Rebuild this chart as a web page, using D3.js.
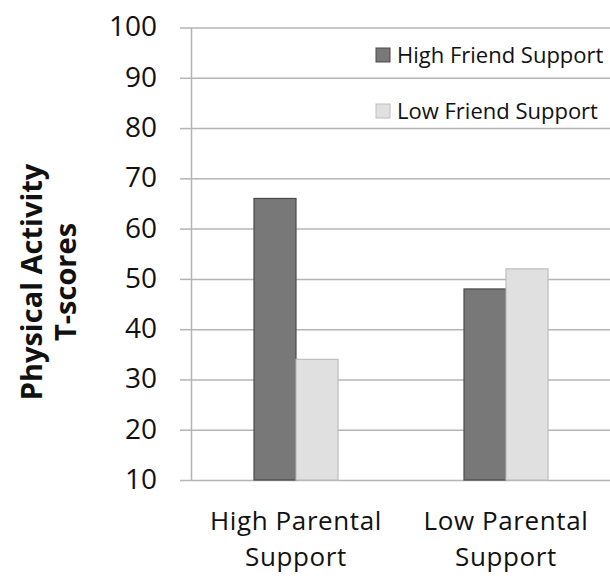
<!DOCTYPE html>
<html>
<head>
<meta charset="utf-8">
<script src="https://cdn.jsdelivr.net/npm/d3@7"></script>
<style>
  body { margin: 0; background: #fff; }
  text { font-family: "Open Sans", sans-serif; fill: #111; }
</style>
</head>
<body>
<div id="chart"></div>
<script>
// data
const categories = [["High Parental", "Support"], ["Low Parental", "Support"]];
const seriesNames = ["High Friend Support", "Low Friend Support"];
const highFriend = [66, 48];
const lowFriend = [34, 52];
const yTicks = [10, 20, 30, 40, 50, 60, 70, 80, 90, 100];

const W = 610, H = 578;
const colors = { "High Friend Support": "#787878", "Low Friend Support": "#e0e0e0" };
const strokes = { "High Friend Support": "#4a4a4a", "Low Friend Support": "#bdbdbd" };

const svg = d3.select("#chart").append("svg")
  .attr("width", W)
  .attr("height", H);

const plotL = 191, plotR = 611, plotT = 27.5, plotB = 480;

const catKeys = categories.map(c => c.join(" "));
const x = d3.scaleBand().domain(catKeys).range([plotL, plotR])
  .paddingInner(0.6).paddingOuter(0.3);
const xs = d3.scaleBand().domain(seriesNames).range([0, x.bandwidth()]);
const y = d3.scaleLinear().domain([10, 100]).range([plotB, plotT]);

// gridlines
svg.append("g")
  .attr("transform", `translate(${plotL},0)`)
  .call(d3.axisLeft(y).tickValues(yTicks).tickSize(-(W - plotL)).tickFormat(""))
  .call(g => g.select(".domain").remove())
  .call(g => g.selectAll("line").attr("stroke", "#b4b4b4").attr("stroke-width", 1.5));

// y axis
svg.append("g")
  .attr("transform", `translate(${plotL},0)`)
  .call(d3.axisLeft(y).tickValues(yTicks).tickSize(11).tickSizeOuter(0).tickPadding(23))
  .call(g => g.select(".domain").attr("stroke", "#b4b4b4").attr("stroke-width", 1.5))
  .call(g => g.selectAll(".tick line").attr("stroke", "#b4b4b4").attr("stroke-width", 1.5))
  .call(g => g.selectAll("text")
    .attr("font-family", "Open Sans, sans-serif")
    .attr("font-size", 28)
    .attr("fill", "#111")
    .attr("dy", "0.3em"));

// bars
const rows = catKeys.map((k, i) => ({ key: k, values: [
  { name: seriesNames[0], v: highFriend[i] },
  { name: seriesNames[1], v: lowFriend[i] }
]}));

const groups = svg.selectAll(".grp").data(rows).enter().append("g")
  .attr("transform", d => `translate(${x(d.key)},0)`);

groups.selectAll("rect").data(d => d.values).enter().append("rect")
  .attr("x", d => xs(d.name))
  .attr("y", d => y(d.v))
  .attr("width", xs.bandwidth())
  .attr("height", d => y(10) - y(d.v))
  .attr("fill", d => colors[d.name])
  .attr("stroke", d => strokes[d.name])
  .attr("stroke-width", 1.2);

// x labels (two lines each)
[0, 1].forEach(line => {
  svg.selectAll(".xlab" + line).data(categories).enter().append("text")
    .attr("class", "xlab" + line)
    .attr("text-anchor", "middle")
    .attr("font-size", 26)
    .attr("letter-spacing", 0.6)
    .attr("x", (d, i) => x(catKeys[i]) + x.bandwidth() / 2)
    .attr("y", line === 0 ? 530 : 566)
    .text(d => d[line]);
});

// y title
const yt = svg.append("text")
  .attr("transform", "translate(0,282) rotate(-90)")
  .attr("text-anchor", "middle")
  .attr("font-size", 29)
  .attr("font-weight", "bold");
yt.append("tspan").attr("x", 0).attr("y", 42).text("Physical Activity");
yt.append("tspan").attr("x", 0).attr("y", 76).text("T-scores");

// legend
const leg = svg.selectAll(".leg").data(seriesNames).enter().append("g")
  .attr("transform", (d, i) => `translate(376,${63 + i * 56})`);
leg.append("rect")
  .attr("x", 0).attr("y", -15)
  .attr("width", 14).attr("height", 14)
  .attr("fill", d => colors[d])
  .attr("stroke", d => strokes[d]);
leg.append("text")
  .attr("x", 21).attr("y", 0)
  .attr("font-size", 22)
  .text(d => d);
</script>
</body>
</html>
